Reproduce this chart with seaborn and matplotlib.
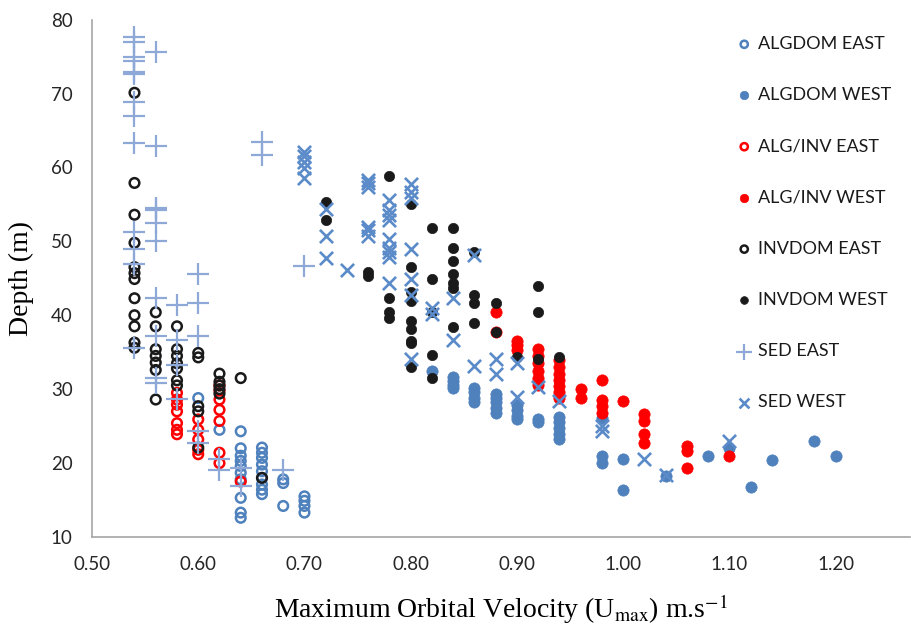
import numpy as np
import pandas as pd
import matplotlib
matplotlib.use("Agg")
import matplotlib.pyplot as plt
import seaborn as sns

# values (velocity m/s, depth m)
algdom_east_x = [0.60, 0.62] + [0.64] * 10 + [0.66] * 9 + [0.68] * 3 + [0.70] * 4
algdom_east_y = [28.8, 24.5,
                 24.3, 22.0, 21.0, 20.3, 19.6, 18.7, 17.8, 15.3, 13.3, 12.6,
                 22.1, 21.4, 20.7, 19.8, 18.9, 18.0, 17.1, 16.4, 15.8,
                 17.8, 17.3, 14.2,
                 15.5, 14.9, 14.2, 13.3]

algdom_west_x = ([0.82] + [0.84] * 4 + [0.86] * 4 + [0.88] * 5 + [0.90] * 4 + [0.92] * 2
                 + [0.94] * 5 + [0.98] * 3 + [1.00] * 2 + [1.04, 1.08, 1.10, 1.12, 1.14, 1.18, 1.20])
algdom_west_y = [32.4,
                 31.7, 31.1, 30.5, 30.2,
                 30.2, 29.6, 28.8, 28.2,
                 29.3, 28.8, 28.2, 27.5, 26.8,
                 27.8, 27.2, 26.4, 25.9,
                 25.9, 25.5,
                 26.3, 25.6, 24.8, 24.0, 23.2,
                 26.1, 20.9, 20.0,
                 20.5, 16.4,
                 18.2, 21.0, 22.1, 16.7, 20.4, 23.0, 20.9]

alginv_east_x = [0.58] * 7 + [0.60] * 5 + [0.62] * 7 + [0.64]
alginv_east_y = [29.5, 28.6, 27.9, 27.0, 25.4, 24.5, 23.9,
                 25.9, 24.5, 23.2, 21.8, 21.2,
                 30.5, 29.8, 28.6, 27.2, 25.7, 21.4, 20.0,
                 17.5]

alginv_west_x = ([0.88] * 2 + [0.90] * 3 + [0.92] * 6 + [0.94] * 7 + [0.96] * 2 + [0.98] * 4
                 + [1.00] + [1.02] * 4 + [1.06] * 3 + [1.10])
alginv_west_y = [40.4, 37.7,
                 36.5, 36.0, 35.3,
                 35.4, 34.5, 33.5, 32.5, 31.5, 30.6,
                 34.0, 33.0, 32.0, 31.2, 30.4, 29.6, 28.8,
                 30.0, 28.8,
                 31.3, 28.6, 27.7, 26.8,
                 28.4,
                 26.6, 25.7, 23.9, 22.7,
                 22.3, 21.6, 19.4,
                 20.9]

invdom_east_x = [0.54] * 12 + [0.56] * 7 + [0.58] * 7 + [0.60] * 5 + [0.62] * 5 + [0.64, 0.66]
invdom_east_y = [70.1, 57.9, 53.6, 49.8, 46.5, 45.7, 44.9, 42.3, 40.0, 38.5, 36.3, 35.6,
                 40.4, 38.5, 35.4, 34.5, 33.6, 32.6, 28.6,
                 38.5, 35.4, 34.5, 33.5, 32.8, 31.2, 30.5,
                 34.9, 34.3, 27.7, 27.0, 22.1,
                 32.1, 31.0, 30.5, 30.0, 29.4,
                 31.5, 18.0]

invdom_west_x = ([0.72] * 2 + [0.76] * 2 + [0.78] * 4 + [0.80] * 9 + [0.82] * 5 + [0.84] * 7
                 + [0.86] * 4 + [0.88] * 2 + [0.90] + [0.92] * 3 + [0.94])
invdom_west_y = [55.3, 52.9,
                 45.9, 45.3,
                 58.9, 42.3, 40.5, 39.6,
                 55.0, 46.5, 43.1, 41.9, 39.2, 38.1, 36.5, 36.2, 33.0,
                 51.8, 44.9, 40.4, 34.6, 31.5,
                 51.8, 49.1, 47.4, 45.6, 44.4, 43.7, 38.4,
                 48.6, 42.8, 41.6, 39.0,
                 41.6, 37.7,
                 34.4,
                 44.0, 40.4, 34.1,
                 34.4]

sed_east_x = [0.54] * 13 + [0.56] * 10 + [0.58] * 4 + [0.60] * 5 + [0.62] * 2 + [0.64] * 2 + [0.66] * 2 + [0.68, 0.70]
sed_east_y = [77.6, 77.0, 75.0, 74.4, 72.9, 72.6, 68.8, 66.9, 63.3, 51.2, 49.0, 47.0, 35.6,
              75.6, 62.9, 54.5, 54.2, 52.5, 50.0, 42.3, 37.2, 31.5, 30.8,
              41.4, 36.7, 33.3, 28.7,
              45.6, 41.7, 37.2, 24.3, 22.7,
              20.5, 19.1,
              19.4, 16.9,
              63.5, 61.7,
              19.0, 46.7]

sed_west_x = ([0.70] * 5 + [0.72] * 3 + [0.74] + [0.76] * 6 + [0.78] * 9 + [0.80] * 7 + [0.82] * 2
              + [0.84] * 2 + [0.86] * 2 + [0.88] * 2 + [0.90] * 2 + [0.92, 0.94] + [0.98] * 2 + [1.02, 1.04, 1.10])
sed_west_y = [62.1, 61.5, 60.8, 59.9, 58.6,
              54.4, 50.7, 47.8,
              46.1,
              58.3, 57.9, 57.3, 52.0, 51.5, 50.7,
              55.6, 54.3, 53.6, 52.9, 50.3, 49.1, 48.6, 47.9, 44.4,
              57.7, 56.7, 55.9, 49.0, 44.9, 42.8, 34.1,
              41.0, 40.2,
              42.4, 36.7,
              48.2, 33.1,
              34.1, 32.0,
              33.6, 29.0,
              30.3, 28.4,
              25.0, 24.3,
              20.5, 18.4, 23.0]

xticks = [0.50, 0.60, 0.70, 0.80, 0.90, 1.00, 1.10, 1.20]
yticks = [10, 20, 30, 40, 50, 60, 70, 80]

BLUE = "#4F81BD"
LIGHT_BLUE = "#8EA9D8"
RED = "#FF0000"
BLACK = "#1A1A1A"

series = [
    ("ALGDOM EAST", algdom_east_x, algdom_east_y, dict(marker="o", s=48, color=BLUE, facecolor="none", edgecolor=BLUE, linewidth=1.8)),
    ("ALGDOM WEST", algdom_west_x, algdom_west_y, dict(marker="o", s=66, color=BLUE, edgecolor=BLUE, linewidth=0.5)),
    ("ALG/INV EAST", alginv_east_x, alginv_east_y, dict(marker="o", s=48, color=RED, facecolor="none", edgecolor=RED, linewidth=1.8)),
    ("ALG/INV WEST", alginv_west_x, alginv_west_y, dict(marker="o", s=66, color=RED, edgecolor=RED, linewidth=0.5)),
    ("INVDOM EAST", invdom_east_x, invdom_east_y, dict(marker="o", s=48, color=BLACK, facecolor="none", edgecolor=BLACK, linewidth=1.8)),
    ("INVDOM WEST", invdom_west_x, invdom_west_y, dict(marker="o", s=55, color=BLACK, edgecolor=BLACK, linewidth=0.5)),
    ("SED EAST", sed_east_x, sed_east_y, dict(marker="+", s=260, color=LIGHT_BLUE, linewidth=1.6)),
    ("SED WEST", sed_west_x, sed_west_y, dict(marker="x", s=90, color="#5B8BC9", linewidth=1.9)),
]

sns.set_style("white")
plt.rcParams["font.family"] = ["Lato", "DejaVu Sans"]
plt.rcParams["mathtext.fontset"] = "stix"

fig = plt.figure(figsize=(9.12, 6.27), dpi=100)
ax = fig.add_axes([92 / 912, 90 / 627, 818 / 912, 517.4 / 627])

for name, xs, ys, kws in series:
    df = pd.DataFrame({"velocity": xs, "depth": ys})
    sns.scatterplot(data=df, x="velocity", y="depth", ax=ax, label=name, zorder=3, **kws)

ax.set_xlim(0.5, 1.27)
ax.set_ylim(10, 80)
ax.set_xticks(xticks)
ax.set_xticklabels([f"{v:.2f}" for v in xticks])
ax.set_yticks(yticks)
ax.tick_params(axis="both", which="major", direction="out", length=6, width=1,
               color="#A6A6A6", labelsize=13.5, labelcolor="#262626", pad=8)
for side in ["top", "right"]:
    ax.spines[side].set_visible(False)
for side in ["left", "bottom"]:
    ax.spines[side].set_color("#A6A6A6")
    ax.spines[side].set_linewidth(1.2)

ax.set_xlabel(r"Maximum Orbital Velocity (U$_{\mathrm{max}}$) m.s$^{\mathrm{-1}}$",
              fontfamily="Liberation Serif", fontsize=20, color="black", labelpad=14)
ax.set_ylabel("Depth (m)", fontfamily="Liberation Serif", fontsize=20, color="black", labelpad=12)

ax.get_legend().remove()
handles, labels = ax.get_legend_handles_labels()
fig.legend(handles, labels, loc="upper left", bbox_to_anchor=(728 / 912, 1 - 27 / 627),
           frameon=False, fontsize=13, handlelength=0.8, handletextpad=0.35,
           labelspacing=1.95, borderpad=0, markerscale=0.75, labelcolor="#1A1A1A")

fig.savefig("out.png", dpi=100)
